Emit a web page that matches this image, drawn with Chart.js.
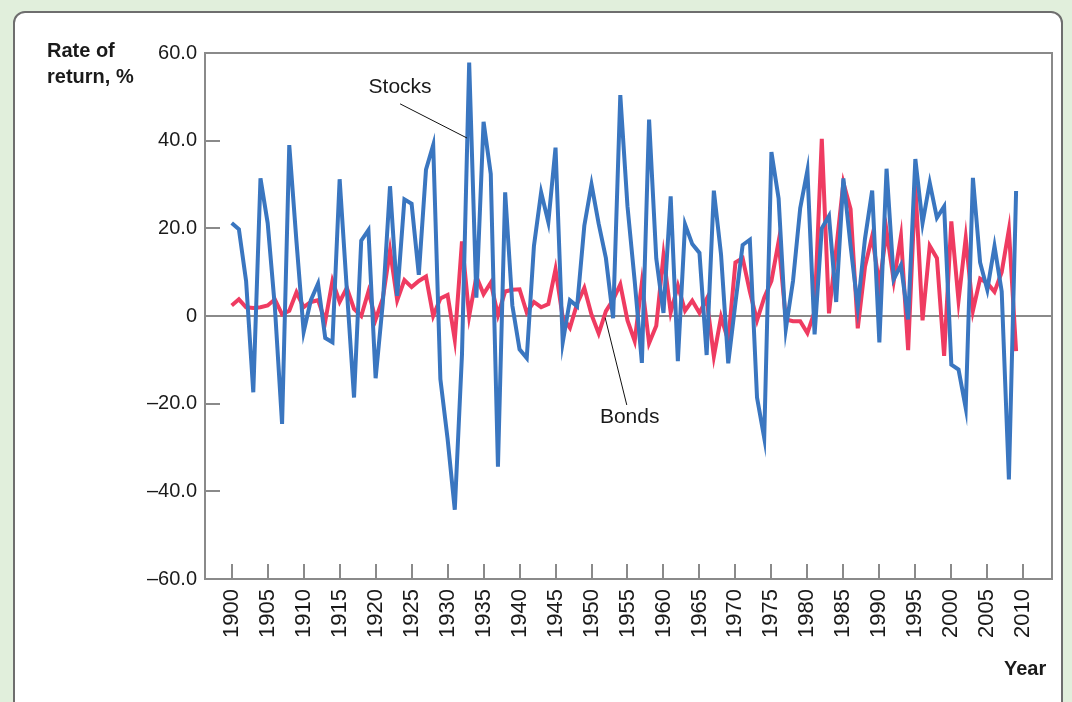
<!DOCTYPE html>
<html>
<head>
<meta charset="utf-8">
<script src="https://cdn.jsdelivr.net/npm/chart.js@4.4.1/dist/chart.umd.min.js"></script>
<style>
  body {
    margin: 0;
    width: 1072px;
    height: 702px;
    overflow: hidden;
    position: relative;
    background: #e1efdc;
    font-family: "Liberation Sans", Arial, sans-serif;
  }
  #panel {
    position: absolute;
    left: 13px;
    top: 11px;
    width: 1050px;
    height: 720px;
    box-sizing: border-box;
    background: #fff;
    border: 2px solid #6e6e6e;
    border-radius: 12px;
  }
  #chart {
    position: absolute;
    left: 0;
    top: 0;
  }
  .axis-title {
    position: absolute;
    font-weight: bold;
    font-size: 20px;
    line-height: 26px;
    color: #1a1a1a;
  }
</style>
</head>
<body>
<div id="panel"></div>
<canvas id="chart" width="1072" height="702"></canvas>
<div class="axis-title" style="left:47px; top:37px;">Rate of<br>return, %</div>
<div class="axis-title" style="left:1004px; top:655px;">Year</div>

<script>
// Annual rates of return (%)
const years = [
    1900, 1901, 1902, 1903, 1904, 1905, 1906, 1907, 1908, 1909,
    1910, 1911, 1912, 1913, 1914, 1915, 1916, 1917, 1918, 1919,
    1920, 1921, 1922, 1923, 1924, 1925, 1926, 1927, 1928, 1929,
    1930, 1931, 1932, 1933, 1934, 1935, 1936, 1937, 1938, 1939,
    1940, 1941, 1942, 1943, 1944, 1945, 1946, 1947, 1948, 1949,
    1950, 1951, 1952, 1953, 1954, 1955, 1956, 1957, 1958, 1959,
    1960, 1961, 1962, 1963, 1964, 1965, 1966, 1967, 1968, 1969,
    1970, 1971, 1972, 1973, 1974, 1975, 1976, 1977, 1978, 1979,
    1980, 1981, 1982, 1983, 1984, 1985, 1986, 1987, 1988, 1989,
    1990, 1991, 1992, 1993, 1994, 1995, 1996, 1997, 1998, 1999,
    2000, 2001, 2002, 2003, 2004, 2005, 2006, 2007, 2008, 2009
];

const stockReturns = [
    21.2, 19.8, 8.0, -17.4, 31.4, 21.2, 2.0, -24.6, 39.0, 17.0,
    -3.6, 3.6, 7.4, -5.0, -6.0, 31.2, 6.0, -18.6, 17.2, 19.6,
    -14.2, 3.0, 29.6, 4.6, 26.6, 25.6, 9.4, 33.4, 39.0, -14.4,
    -28.0, -44.2, -8.8, 57.8, 4.2, 44.3, 32.4, -34.4, 28.2, 2.4,
    -7.6, -9.6, 16.0, 28.2, 21.4, 38.4, -6.0, 3.6, 2.2, 20.6,
    30.0, 21.0, 13.2, -0.5, 50.4, 25.0, 8.0, -10.7, 44.8, 13.1,
    0.7, 27.3, -10.3, 20.9, 16.4, 14.4, -8.9, 28.6, 14.0, -10.8,
    3.0, 16.2, 17.4, -18.6, -27.8, 37.4, 26.8, -3.0, 8.0, 24.6,
    33.2, -4.2, 20.0, 22.8, 3.2, 31.4, 16.0, 2.0, 17.6, 28.6,
    -6.0, 33.6, 8.4, 11.6, -0.8, 35.8, 21.2, 30.4, 22.4, 25.0,
    -11.1, -12.2, -21.0, 31.5, 12.2, 6.0, 15.9, 5.6, -37.3, 28.5
];

const bondReturns = [
    2.4, 3.8, 2.0, 1.8, 2.0, 2.4, 3.8, 0.4, 1.2, 5.4,
    2.0, 3.2, 3.6, -1.2, 8.0, 3.2, 6.4, 1.6, 0.0, 5.6,
    -0.8, 4.0, 15.0, 3.6, 8.2, 6.6, 8.0, 9.0, 0.0, 4.0,
    4.8, -5.4, 17.0, 0.0, 9.0, 5.0, 7.6, 0.2, 5.6, 6.0,
    6.1, 0.8, 3.2, 2.0, 2.7, 10.7, -0.3, -2.7, 2.8, 6.4,
    0.3, -4.0, 1.1, 3.7, 7.2, -1.0, -5.7, 7.6, -6.2, -2.2,
    13.8, 0.8, 6.9, 1.2, 3.5, 0.7, 3.9, -9.2, -0.2, -5.6,
    12.2, 13.2, 5.6, -1.0, 4.2, 8.0, 17.0, -0.8, -1.2, -1.2,
    -3.9, 1.0, 40.4, 0.6, 15.2, 30.4, 24.4, -2.8, 11.2, 18.2,
    7.0, 19.4, 8.0, 18.2, -7.8, 29.8, -1.0, 16.0, 13.2, -9.1,
    21.6, 3.5, 17.8, 1.2, 8.5, 7.5, 5.5, 10.0, 19.7, -8.0
];

const xTicks = [1900, 1905, 1910, 1915, 1920, 1925, 1930, 1935, 1940, 1945, 1950,
                1955, 1960, 1965, 1970, 1975, 1980, 1985, 1990, 1995, 2000, 2005, 2010];
const yTicks = [-60, -40, -20, 0, 20, 40, 60];

const STOCK_COLOR = '#3a76c0';
const BOND_COLOR = '#ef3b61';
const FRAME_COLOR = '#8a8a8a';
const TEXT_COLOR = '#1a1a1a';
const FONT = '"Liberation Sans", Arial, sans-serif';

// Series labels with leader lines, placed in data units
const callouts = [
    { text: 'Stocks', at: [1923.4, 52.2], from: [1923.4, 48.4], to: [1932.7, 40.6] },
    { text: 'Bonds', at: [1955.3, -23.0], from: [1951.9, -0.4], to: [1954.9, -20.3] }
];

function yLabel(v) {
    if (v === 0) return '0';
    return (v < 0 ? '\u2013' : '') + Math.abs(v).toFixed(1);
}

// Frame, inward tick marks, zero line and callouts
const framePlugin = {
    id: 'frame',
    beforeDatasetsDraw(chart) {
        const { ctx, chartArea: a, scales: { x, y } } = chart;
        ctx.save();
        ctx.strokeStyle = FRAME_COLOR;
        ctx.lineWidth = 2;
        ctx.strokeRect(a.left, a.top, a.right - a.left, a.bottom - a.top);

        ctx.beginPath();
        xTicks.forEach(v => {
            const px = Math.round(x.getPixelForValue(v));
            ctx.moveTo(px, a.bottom);
            ctx.lineTo(px, a.bottom - 15);
        });
        yTicks.forEach(v => {
            if (v === 60 || v === -60) return;
            const py = Math.round(y.getPixelForValue(v));
            ctx.moveTo(a.left, py);
            ctx.lineTo(a.left + 15, py);
        });
        ctx.stroke();

        const zero = Math.round(y.getPixelForValue(0));
        ctx.beginPath();
        ctx.moveTo(a.left, zero);
        ctx.lineTo(a.right, zero);
        ctx.stroke();
        ctx.restore();
    },
    afterDatasetsDraw(chart) {
        const { ctx, scales: { x, y } } = chart;
        ctx.save();
        ctx.strokeStyle = '#111';
        ctx.lineWidth = 1;
        ctx.fillStyle = TEXT_COLOR;
        ctx.font = '21px ' + FONT;
        ctx.textAlign = 'center';
        ctx.textBaseline = 'middle';
        callouts.forEach(c => {
            ctx.beginPath();
            ctx.moveTo(x.getPixelForValue(c.from[0]), y.getPixelForValue(c.from[1]));
            ctx.lineTo(x.getPixelForValue(c.to[0]), y.getPixelForValue(c.to[1]));
            ctx.stroke();
            ctx.fillText(c.text, x.getPixelForValue(c.at[0]), y.getPixelForValue(c.at[1]));
        });
        ctx.restore();
    }
};

const toPoints = values => values.map((v, i) => ({ x: years[i], y: v }));

new Chart(document.getElementById('chart'), {
    type: 'line',
    data: {
        datasets: [
            {
                label: 'Stocks',
                data: toPoints(stockReturns),
                borderColor: STOCK_COLOR,
                borderWidth: 4,
                pointRadius: 0,
                tension: 0
            },
            {
                label: 'Bonds',
                data: toPoints(bondReturns),
                borderColor: BOND_COLOR,
                borderWidth: 4,
                pointRadius: 0,
                tension: 0
            }
        ]
    },
    options: {
        responsive: false,
        devicePixelRatio: 1,
        animation: false,
        layout: { padding: { left: 0, top: 53, right: 20, bottom: 0 } },
        plugins: {
            legend: { display: false },
            tooltip: { enabled: false }
        },
        scales: {
            x: {
                type: 'linear',
                min: 1896.29,
                max: 2013.99,
                grid: { display: false, drawTicks: false },
                border: { display: false },
                afterBuildTicks: s => { s.ticks = xTicks.map(v => ({ value: v })); },
                afterFit: s => { s.height = 123; },
                ticks: {
                    autoSkip: false,
                    minRotation: 90,
                    maxRotation: 90,
                    padding: 10,
                    color: TEXT_COLOR,
                    font: { family: FONT, size: 22 },
                    callback: v => String(v)
                }
            },
            y: {
                min: -60,
                max: 60,
                grid: { display: false, drawTicks: false },
                border: { display: false },
                afterBuildTicks: s => { s.ticks = yTicks.map(v => ({ value: v })); },
                afterFit: s => { s.width = 205; },
                ticks: {
                    padding: 8,
                    color: TEXT_COLOR,
                    font: { family: FONT, size: 20 },
                    callback: v => yLabel(v)
                }
            }
        }
    },
    plugins: [framePlugin]
});
</script>
</body>
</html>
